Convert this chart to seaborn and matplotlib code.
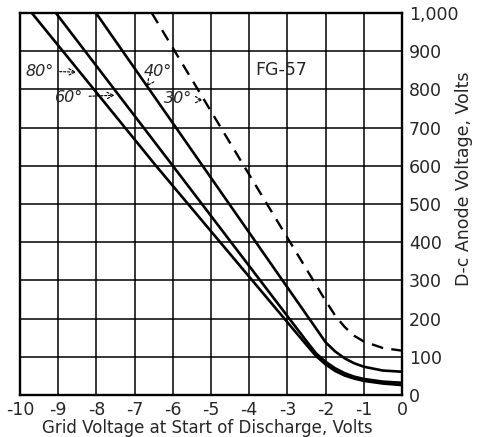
import matplotlib
matplotlib.use("Agg")
import matplotlib.pyplot as plt
import seaborn as sns
import pandas as pd

# ---- data (grid voltage, anode voltage) ----
grid_80 = [-9.69, -6.44, -3.08, -2.50, -2.25, -2.00, -1.75, -1.50, -1.25, -1.00, -0.50, 0.00]
anode_80 = [1000, 600, 200, 131, 102, 80, 63, 51, 43, 37, 30, 26]

grid_60 = [-9.06, -6.00, -2.95, -2.50, -2.25, -2.00, -1.75, -1.50, -1.25, -1.00, -0.50, 0.00]
anode_60 = [1000, 600, 200, 141, 109, 87, 70, 57, 48, 42, 35, 32]

grid_40 = [-8.01, -5.22, -2.43, -2.20, -2.00, -1.75, -1.50, -1.25, -1.00, -0.50, 0.00]
anode_40 = [1000, 600, 200, 167, 138, 114, 96, 83, 74, 64, 61]

grid_30 = [-6.55, -4.14, -2.02, -1.75, -1.50, -1.25, -1.00, -0.50, 0.00]
anode_30 = [1000, 600, 250, 208, 178, 155, 140, 123, 116]

x_ticks = [-10, -9, -8, -7, -6, -5, -4, -3, -2, -1, 0]
x_tick_labels = ["-10", "-9", "-8", "-7", "-6", "-5", "-4", "-3", "-2", "-1", "0"]
y_ticks = [0, 100, 200, 300, 400, 500, 600, 700, 800, 900, 1000]
y_tick_labels = ["0", "100", "200", "300", "400", "500", "600", "700", "800", "900", "1,000"]

angle_labels = ["80°", "60°", "40°", "30°"]

frames = []
for name, gx, ay in [("80", grid_80, anode_80), ("60", grid_60, anode_60),
                     ("40", grid_40, anode_40), ("30", grid_30, anode_30)]:
    frames.append(pd.DataFrame({"grid": gx, "anode": ay, "angle": name}))
df = pd.concat(frames, ignore_index=True)

sns.set_style("white")
plt.rcParams["font.family"] = ["DejaVu Sans"]

fig = plt.figure(figsize=(4.89, 4.37), dpi=100)
ax = fig.add_axes([20 / 489, 1 - 395 / 437, 382 / 489, 382 / 437])

for name in ["80", "60", "40"]:
    sns.lineplot(data=df[df.angle == name], x="grid", y="anode", ax=ax,
                 color="black", lw=1.9, sort=False, estimator=None, legend=False)
sns.lineplot(data=df[df.angle == "30"], x="grid", y="anode", ax=ax,
             color="black", lw=1.7, sort=False, estimator=None, legend=False,
             linestyle=(0, (5, 3.5)))

ax.set_xlim(-10, 0)
ax.set_ylim(0, 1000)
ax.set_xticks(x_ticks)
ax.set_xticklabels(x_tick_labels, fontsize=12.5)
ax.set_yticks(y_ticks)
ax.set_yticklabels(y_tick_labels, fontsize=12.5)
ax.yaxis.tick_right()
ax.tick_params(axis="both", length=0)
ax.tick_params(axis="x", pad=4)
ax.tick_params(axis="y", pad=5)
ax.grid(True, color="black", lw=1.1)
for s in ax.spines.values():
    s.set_visible(True)
    s.set_color("black")
    s.set_linewidth(1.7)

ax.set_xlabel("Grid Voltage at Start of Discharge, Volts", fontsize=12)
ax.xaxis.set_label_coords(0.49, -0.062)
ax.yaxis.set_label_position("right")
ax.set_ylabel("D-c Anode Voltage, Volts", fontsize=12.5, rotation=90)
ax.yaxis.set_label_coords(1.14, 0.565)

ax.text(-3.17, 851, "FG-57", fontsize=12.5, ha="center", va="center")

arrow = dict(arrowstyle="->", color="black", lw=0.8, linestyle=(0, (2, 1.5)))
ax.annotate(angle_labels[0], xy=(-8.45, 845), xytext=(-9.12, 848),
            fontsize=11.5, style="italic", ha="right", va="center", arrowprops=arrow)
ax.annotate(angle_labels[1], xy=(-7.45, 785), xytext=(-8.35, 780),
            fontsize=11.5, style="italic", ha="right", va="center", arrowprops=arrow)
ax.annotate(angle_labels[2], xy=(-6.68, 808), xytext=(-6.4, 848),
            fontsize=11.5, style="italic", ha="center", va="center", arrowprops=arrow)
ax.annotate(angle_labels[3], xy=(-5.14, 772), xytext=(-5.5, 775),
            fontsize=11.5, style="italic", ha="right", va="center", arrowprops=arrow)

fig.savefig("out.png", dpi=100)
